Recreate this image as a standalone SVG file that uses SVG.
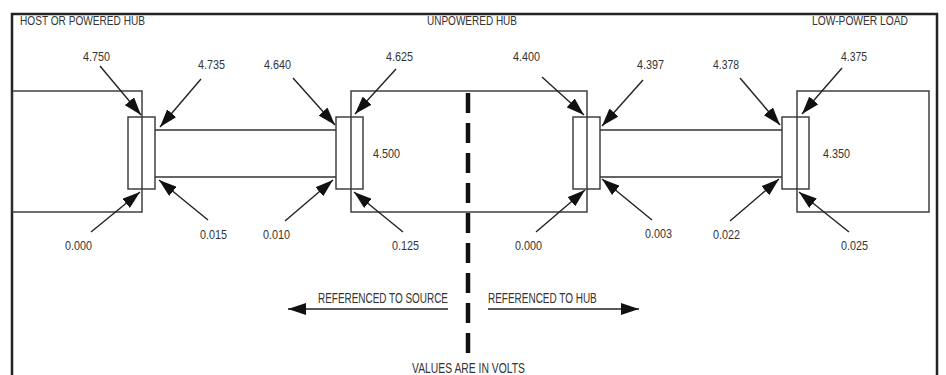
<svg xmlns="http://www.w3.org/2000/svg" width="946" height="375" viewBox="0 0 946 375">
<style>
.bx{fill:none;stroke:#333;stroke-width:1.4}
.fr{fill:none;stroke:#222;stroke-width:2.5}
.ar{fill:none;stroke:#222;stroke-width:1.4}
.t{font-family:"Liberation Sans",Arial,sans-serif;fill:#333;font-size:13.5px}
.h{font-family:"Liberation Sans",Arial,sans-serif;fill:#333;font-size:13.5px}
.b{font-family:"Liberation Sans",Arial,sans-serif;fill:#333;font-size:14.5px}
</style>
<defs>
<marker id="ah" markerUnits="userSpaceOnUse" viewBox="0 0 18 12" refX="18" refY="6" markerWidth="18" markerHeight="12" orient="auto">
<path d="M0,0 L18,6 L0,12 z" fill="#111"/>
</marker>
</defs>
<rect width="946" height="375" fill="#fff"/>
<path class="fr" d="M12,375 V14 H937 V375"/>
<g id="host">
<rect class="bx" x="12" y="91" width="130" height="121"/>
<text class="h" x="20" y="25" textLength="125" lengthAdjust="spacingAndGlyphs">HOST OR POWERED HUB</text>
</g>
<g id="plug1"><rect class="bx" x="128" y="117" width="27" height="72"/></g>
<g id="cable1"><path class="bx" d="M155,130 H336 M155,177 H336"/></g>
<g id="hub">
<rect class="bx" x="351" y="91" width="236" height="121"/>
<text class="h" x="427" y="25" textLength="90" lengthAdjust="spacingAndGlyphs">UNPOWERED HUB</text>
</g>
<g id="plug2"><rect class="bx" x="336" y="117" width="27" height="72"/></g>
<g id="plug3"><rect class="bx" x="573" y="117" width="27" height="72"/></g>
<g id="cable2"><path class="bx" d="M600,130 H782 M600,177 H782"/></g>
<g id="plug4"><rect class="bx" x="782" y="117" width="27" height="72"/></g>
<g id="load">
<rect class="bx" x="797" y="91" width="132" height="121"/>
<text class="h" x="812" y="25" textLength="96" lengthAdjust="spacingAndGlyphs">LOW-POWER LOAD</text>
</g>
<g id="divider"><path d="M468,93 V353" stroke="#111" stroke-width="4.5" stroke-dasharray="20,10" fill="none"/></g>
<g id="connectors">
<path class="ar" marker-end="url(#ah)" d="M100,66 L141,115"/>
<path class="ar" marker-end="url(#ah)" d="M201,79 L160,127"/>
<path class="ar" marker-end="url(#ah)" d="M293,78 L335,125"/>
<path class="ar" marker-end="url(#ah)" d="M396,69 L355,114"/>
<path class="ar" marker-end="url(#ah)" d="M542,77 L584,115"/>
<path class="ar" marker-end="url(#ah)" d="M643,80 L602,126"/>
<path class="ar" marker-end="url(#ah)" d="M740,78 L780,125"/>
<path class="ar" marker-end="url(#ah)" d="M842,68 L802,114"/>
<path class="ar" marker-end="url(#ah)" d="M91,232 L140,192"/>
<path class="ar" marker-end="url(#ah)" d="M208,220 L159,180"/>
<path class="ar" marker-end="url(#ah)" d="M285,221 L333,180"/>
<path class="ar" marker-end="url(#ah)" d="M403,232 L354,192"/>
<path class="ar" marker-end="url(#ah)" d="M536,232 L585,190"/>
<path class="ar" marker-end="url(#ah)" d="M652,220 L602,179"/>
<path class="ar" marker-end="url(#ah)" d="M730,221 L779,179"/>
<path class="ar" marker-end="url(#ah)" d="M849,232 L799,192"/>
<path class="ar" marker-end="url(#ah)" d="M448,309 H288"/>
<path class="ar" marker-end="url(#ah)" d="M488,309 H639"/>
</g>
<g id="labels">
<text class="t" x="83" y="61" textLength="27" lengthAdjust="spacingAndGlyphs">4.750</text>
<text class="t" x="198" y="69" textLength="27" lengthAdjust="spacingAndGlyphs">4.735</text>
<text class="t" x="264" y="69" textLength="27" lengthAdjust="spacingAndGlyphs">4.640</text>
<text class="t" x="386" y="61" textLength="27" lengthAdjust="spacingAndGlyphs">4.625</text>
<text class="t" x="513" y="61" textLength="27" lengthAdjust="spacingAndGlyphs">4.400</text>
<text class="t" x="637" y="69" textLength="27" lengthAdjust="spacingAndGlyphs">4.397</text>
<text class="t" x="713" y="69" textLength="26" lengthAdjust="spacingAndGlyphs">4.378</text>
<text class="t" x="841" y="61" textLength="26" lengthAdjust="spacingAndGlyphs">4.375</text>
<text class="t" x="373" y="158" textLength="27" lengthAdjust="spacingAndGlyphs">4.500</text>
<text class="t" x="823" y="158" textLength="27" lengthAdjust="spacingAndGlyphs">4.350</text>
<text class="t" x="65" y="250" textLength="27" lengthAdjust="spacingAndGlyphs">0.000</text>
<text class="t" x="200" y="239" textLength="27" lengthAdjust="spacingAndGlyphs">0.015</text>
<text class="t" x="263" y="239" textLength="27" lengthAdjust="spacingAndGlyphs">0.010</text>
<text class="t" x="392" y="250" textLength="27" lengthAdjust="spacingAndGlyphs">0.125</text>
<text class="t" x="515" y="250" textLength="27" lengthAdjust="spacingAndGlyphs">0.000</text>
<text class="t" x="645" y="238" textLength="27" lengthAdjust="spacingAndGlyphs">0.003</text>
<text class="t" x="713" y="239" textLength="27" lengthAdjust="spacingAndGlyphs">0.022</text>
<text class="t" x="841" y="250" textLength="27" lengthAdjust="spacingAndGlyphs">0.025</text>
<text class="b" transform="translate(318 303) scale(0.684 1)" x="0" y="0" textLength="190" lengthAdjust="spacingAndGlyphs">REFERENCED TO SOURCE</text>
<text class="b" transform="translate(488 303) scale(0.684 1)" x="0" y="0" textLength="159" lengthAdjust="spacingAndGlyphs">REFERENCED TO HUB</text>
<text class="b" x="412" y="373" textLength="113" lengthAdjust="spacingAndGlyphs">VALUES ARE IN VOLTS</text>
</g>
</svg>
